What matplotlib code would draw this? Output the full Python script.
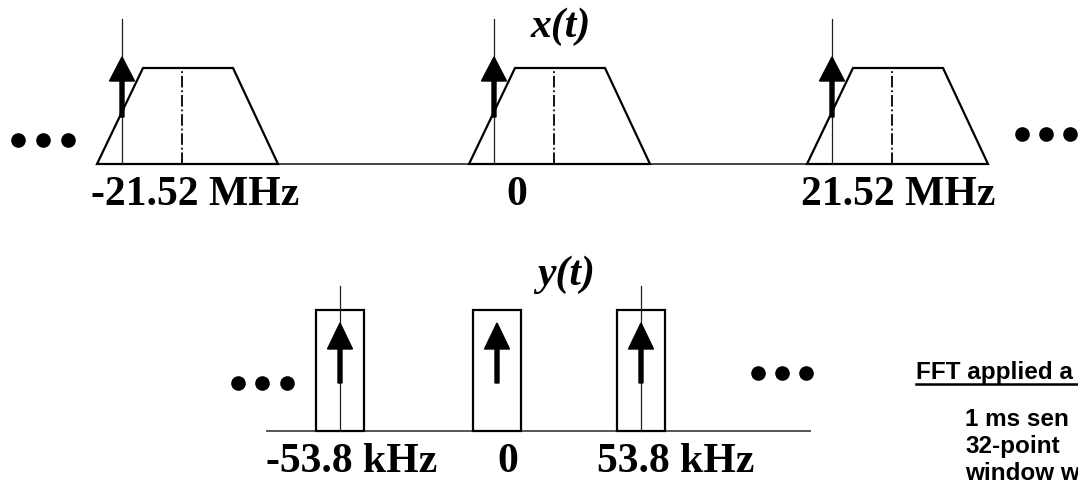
import matplotlib.pyplot as plt
from matplotlib.patches import Polygon, Rectangle

# top spectrum x(t): replicas of the band at -fs, 0, +fs
top_labels = ["-21.52 MHz", "0", "21.52 MHz"]
top_carrier = [122, 494, 832]      # tone position of each replica
top_label_x = [195, 517, 898]

# bottom spectrum y(t) after decimation
bot_labels = ["-53.8 kHz", "0", "53.8 kHz"]
bot_carrier = [340, 497, 641]
bot_label_x = [352, 508, 676]
bot_has_line = [True, False, True]

# side note, only the part that shows before the right edge
note_title = "FFT applied a"
note_lines = ["1 ms sen", "32-point", "window w"]

serif = "Liberation Serif"
sans = "Liberation Sans"

fig = plt.figure(figsize=(10.78, 4.88), dpi=100)
ax = fig.add_axes([0, 0, 1, 1])
ax.set_xlim(0, 1078)
ax.set_ylim(488, 0)
ax.axis("off")

# ---- top: x(t) ----
base_y = 164
top_y = 68
ax.plot([97, 988], [base_y, base_y], color="#444444", lw=1.4, zorder=1)
for xc, lab, lx in zip(top_carrier, top_labels, top_label_x):
    left = xc - 25
    trap = Polygon([[left, base_y], [left + 46, top_y], [left + 136, top_y], [left + 181, base_y]],
                   closed=True, fill=False, ec="black", lw=1.6, zorder=2)
    ax.add_patch(trap)
    ax.plot([left + 85, left + 85], [base_y, top_y], color="black", lw=1.3, ls="-.", zorder=2)
    ax.plot([xc, xc], [19, base_y], color="#222222", lw=0.9, zorder=3)
    ax.arrow(xc, 117, 0, -60, width=4, head_width=25, head_length=24,
             length_includes_head=True, fc="black", ec="black", zorder=4)
    ax.text(lx, 195, lab, fontsize=30, fontweight="bold", family=serif,
            ha="center", va="center")

ax.text(561, 27, "x(t)", fontsize=30, fontweight="bold", fontstyle="italic",
        family=serif, ha="center", va="center")
ax.plot([18, 43, 68], [140, 140, 140], "o", color="black", ms=9.5)
ax.plot([1022, 1046, 1070], [134, 134, 134], "o", color="black", ms=9.5)

# ---- bottom: y(t) ----
bb_y = 431
ax.plot([267, 810], [bb_y, bb_y], color="#555555", lw=1.4, zorder=1)
for xc, lab, lx, ln in zip(bot_carrier, bot_labels, bot_label_x, bot_has_line):
    ax.add_patch(Rectangle((xc - 24, 310), 48, bb_y - 310, fill=False,
                           ec="black", lw=1.6, zorder=2))
    if ln:
        ax.plot([xc, xc], [286, bb_y], color="#222222", lw=0.9, zorder=3)
    ax.arrow(xc, 383, 0, -60, width=4, head_width=25, head_length=26,
             length_includes_head=True, fc="black", ec="black", zorder=4)
    ax.text(lx, 462, lab, fontsize=30, fontweight="bold", family=serif,
            ha="center", va="center")

ax.text(566, 275, "y(t)", fontsize=30, fontweight="bold", fontstyle="italic",
        family=serif, ha="center", va="center")
ax.plot([238, 262, 287], [383, 383, 383], "o", color="black", ms=9.5)
ax.plot([758, 782, 806], [373, 373, 373], "o", color="black", ms=9.5)

# ---- side note ----
ax.text(916, 373, note_title, fontsize=17.5, fontweight="bold", family=sans,
        ha="left", va="center")
ax.plot([916, 1078], [384, 384], color="black", lw=1.8)
for i, line in enumerate(note_lines):
    ax.text(965, 419 + 27 * i, line, fontsize=17.5, fontweight="bold", family=sans,
            ha="left", va="center")

fig.savefig("out.png", dpi=100)
